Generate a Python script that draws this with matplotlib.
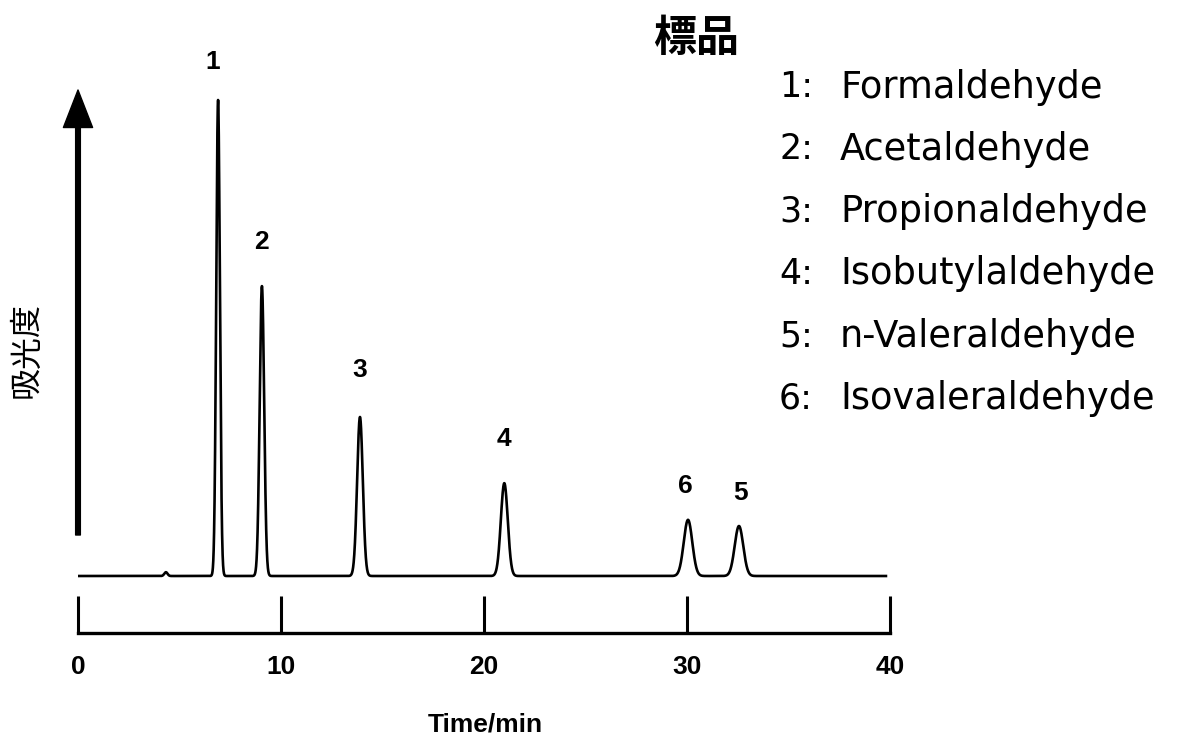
import numpy as np
import matplotlib
matplotlib.use("Agg")
import matplotlib.pyplot as plt

# ---- data ----
peak_ids = ["1", "2", "3", "4", "5", "6"]
compounds = ["Formaldehyde", "Acetaldehyde", "Propionaldehyde",
             "Isobutylaldehyde", "n-Valeraldehyde", "Isovaleraldehyde"]
retention_min = [6.90, 9.06, 13.89, 21.00, 32.56, 30.05]
peak_height = [1.000, 0.609, 0.334, 0.195, 0.105, 0.118]
peak_sigma = [0.09, 0.11, 0.14, 0.17, 0.21, 0.21]
minor_time = [4.33]
minor_height = [0.008]
minor_sigma = [0.08]
run_end_min = 39.8
xticks = [0, 10, 20, 30, 40]
title = "標品"
ylabel = "吸光度"
xlabel = "Time/min"

# label offsets above apex (points)
label_dx = [-4, 0, 0, 0, 1, -2]
label_dy = [27, 32, 34, 32, 24, 24]

W, H = 1196, 747
fig = plt.figure(figsize=(W / 100, H / 100), dpi=100)
fig.patch.set_facecolor("white")

x0, x1 = 78, 890
yb, ybase = 633, 576
unit = 476.0
ax = fig.add_axes([x0 / W, (H - yb) / H, (x1 - x0) / W, yb / H])
ax.set_xlim(0, 40)
ax.set_ylim(-(yb - ybase) / unit, ybase / unit)
for s in ("left", "top", "right"):
    ax.spines[s].set_visible(False)
ax.spines["bottom"].set_linewidth(2.4)
ax.spines["bottom"].set_capstyle("projecting")
ax.set_yticks([])
ax.set_xticks(xticks)
ax.set_xticklabels([str(v) for v in xticks], fontfamily="Liberation Sans",
                   fontweight="bold", fontsize=19)
ax.tick_params(axis="x", direction="in", length=27, width=2.2, pad=16,
               colors="black")
ax.patch.set_alpha(0)

# chromatogram signal (sum of Gaussian peaks)
t = np.linspace(0, run_end_min, 12000)
sig = np.zeros_like(t)
for tr, h, s in zip(retention_min + minor_time, peak_height + minor_height,
                    peak_sigma + minor_sigma):
    sig += h * np.exp(-0.5 * ((t - tr) / s) ** 2)
ax.plot(t, sig, color="black", lw=1.9, solid_joinstyle="round")

# peak numbers
for pid, tr, h, dx, dy in zip(peak_ids, retention_min, peak_height, label_dx, label_dy):
    ax.annotate(pid, xy=(tr, h), xytext=(dx, dy), textcoords="offset points",
                ha="center", va="center", fontsize=19, fontweight="bold",
                fontfamily="Liberation Sans", annotation_clip=False)

# absorbance arrow
ax.annotate("", xy=(0, (ybase - 90) / unit), xytext=(0, (ybase - 535) / unit),
            arrowprops=dict(width=3.4, headwidth=21, headlength=27,
                            facecolor="black", edgecolor="black", shrink=0),
            annotation_clip=False)

fig.text(27 / W, 1 - 350 / H, ylabel, rotation=90, ha="center", va="center",
         fontsize=23, family=["Noto Sans CJK JP", "DejaVu Sans"])
fig.text(485 / W, 1 - 725 / H, xlabel, ha="center", va="center",
         fontsize=19, fontweight="bold", fontfamily="Liberation Sans")

# legend block
fig.text(696 / W, 1 - 38 / H, title, ha="center", va="center", fontsize=31,
         fontweight="bold", family=["Noto Sans CJK JP", "DejaVu Sans"])
y0, dy = 87, 62.3
for i, (pid, name) in enumerate(zip(peak_ids, compounds)):
    yy = 1 - (y0 + i * dy) / H
    fig.text(779 / W, yy, pid + ":", ha="left", va="center", fontsize=25,
             fontfamily="DejaVu Sans")
    fig.text(840 / W, yy, name, ha="left", va="center", fontsize=26.5,
             fontfamily="DejaVu Sans")

fig.savefig("out.png", dpi=100, facecolor="white")
